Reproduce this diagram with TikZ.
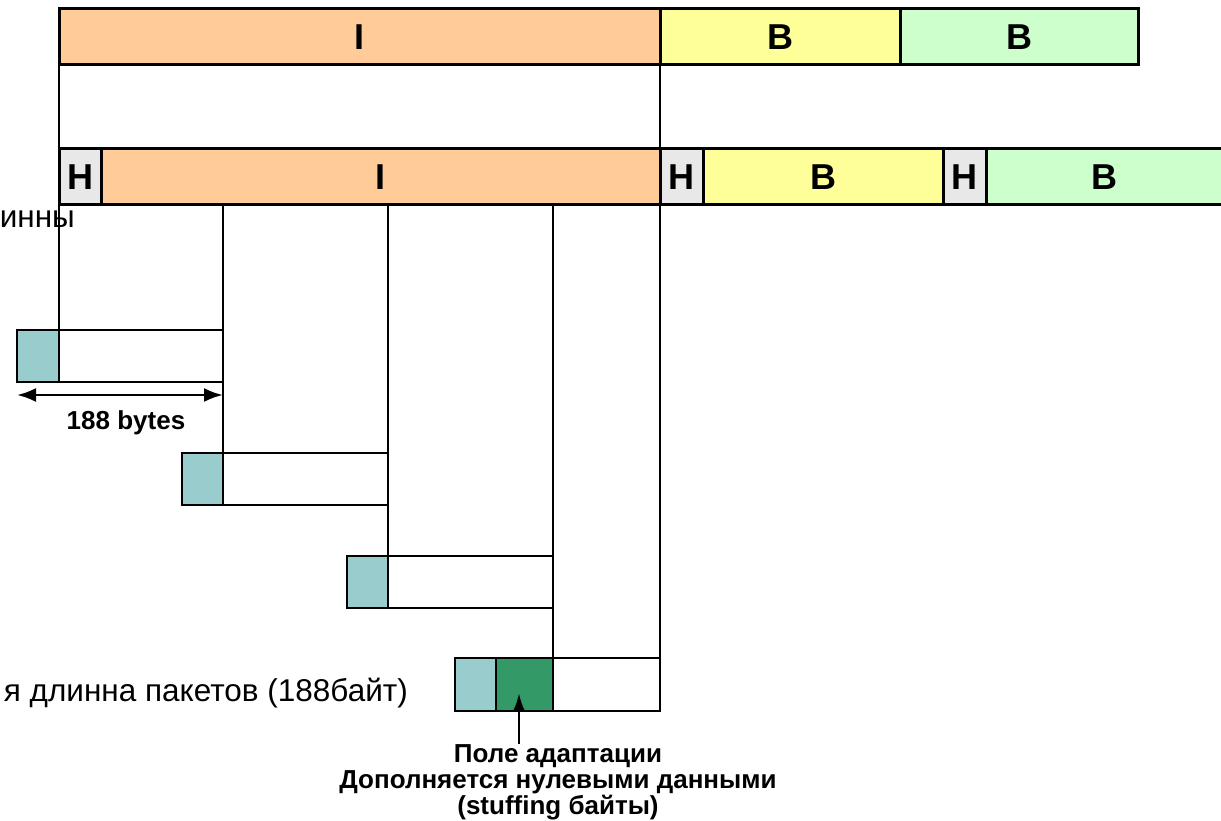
\documentclass[tikz,border=0pt]{standalone}
\usepackage{fontspec}
\setmainfont{Liberation Sans}
\usetikzlibrary{arrows.meta,calc}
\definecolor{cI}{HTML}{FFCC99}
\definecolor{cBy}{HTML}{FFFF99}
\definecolor{cBg}{HTML}{CCFFCC}
\definecolor{cH}{HTML}{E8E8E8}
\definecolor{cTS}{HTML}{99CCCC}
\definecolor{cAF}{HTML}{339966}
\tikzset{
  box/.style={draw=black, line width=3pt, rectangle, inner sep=0pt, outer sep=0pt, anchor=center},
  pbox/.style={box, line width=2.6pt},
  lbl/.style={font=\fontsize{36}{40}\selectfont\bfseries},
  conn/.style={draw=black, line width=2.6pt},
}
\begin{document}
\begin{tikzpicture}[x=1pt,y=-1pt]
\useasboundingbox (0,0) rectangle (1221,821);
\clip (0,0) rectangle (1221,821);
% top row
\node[box, fill=cI, minimum width=601, minimum height=56, lbl] (It) at (359.5,37) {I};
\node[box, fill=cBy, minimum width=240, minimum height=56, lbl] (B1) at (780,37) {B};
\node[box, fill=cBg, minimum width=238, minimum height=56, lbl] (B2) at (1019,37) {B};
% second row
\node[box, fill=cH, minimum width=42, minimum height=56, lbl] (H1) at (80,177) {H};
\node[box, fill=cI, minimum width=559, minimum height=56, lbl] (I2) at (380.5,177) {I};
\node[box, fill=cH, minimum width=43, minimum height=56, lbl] (H2) at (681.5,177) {H};
\node[box, fill=cBy, minimum width=240, minimum height=56, lbl] (B3) at (823,177) {B};
\node[box, fill=cH, minimum width=43, minimum height=56, lbl] (H3) at (964.5,177) {H};
\node[box, fill=cBg, minimum width=245, minimum height=56] (B4) at (1108.5,177) {};
\node[lbl] (B4t) at (1104,177) {B};
% packets
\node[pbox, fill=cTS, minimum width=42, minimum height=52] (P1h) at (38,356) {};
\node[pbox, fill=white, minimum width=164, minimum height=52] (P1b) at (141,356) {};
\node[pbox, fill=cTS, minimum width=41, minimum height=52] (P2h) at (202.5,479) {};
\node[pbox, fill=white, minimum width=165, minimum height=52] (P2b) at (305.5,479) {};
\node[pbox, fill=cTS, minimum width=41, minimum height=52] (P3h) at (367.5,582) {};
\node[pbox, fill=white, minimum width=165, minimum height=52] (P3b) at (470.5,582) {};
\node[pbox, fill=cTS, minimum width=41, minimum height=53] (P4h) at (475.5,684.5) {};
\node[pbox, fill=cAF, minimum width=57, minimum height=53] (P4a) at (524.5,684.5) {};
\node[pbox, fill=white, minimum width=107, minimum height=53] (P4b) at (606.5,684.5) {};
% connectors
\draw[conn] (It.south west) -- (H1.north west);
\draw[conn] (It.south east) -- (H2.north west);
\draw[conn] (H1.south west) -- (P1b.north west);
\draw[conn] (H2.south west) -- (P4b.north east);
\draw[conn] (P1b.north east |- I2.south) -- (P1b.north east);
\draw[conn] (P1b.south east) -- (P2b.north west);
\draw[conn] (P2b.north east |- I2.south) -- (P2b.north east);
\draw[conn] (P2b.south east) -- (P3b.north west);
\draw[conn] (P3b.north east |- I2.south) -- (P3b.north east);
\draw[conn] (P3b.south east) -- (P4b.north west);
% dimension
\draw[line width=2.6pt, {Latex[length=19pt,width=14pt]}-{Latex[length=19pt,width=14pt]}]
  ($(P1h.south west)+(0,13)$) -- ($(P1b.south east)+(0,13)$);
\node[font=\fontsize{26}{30}\selectfont\bfseries] (dim) at (126,423) {188 bytes};
% left texts
\node[anchor=east, inner sep=0pt, font=\fontsize{31.5}{36}\selectfont] (t1) at (75,219) {инны};
\node[anchor=east, inner sep=0pt, font=\fontsize{31.5}{36}\selectfont] (t2) at (408,693) {я длинна пакетов (188байт)};
% adaptation label
\node[align=center, inner sep=0pt, font=\fontsize{26}{26}\selectfont\bfseries] (ada) at (558,782)
  {Поле адаптации\\Дополняется нулевыми данными\\(stuffing байты)};
\coordinate (tipA) at (519,693);
\draw[line width=2.6pt, -{Latex[length=18pt,width=12pt]}] (tipA |- ada.north) -- (tipA);
\end{tikzpicture}
\end{document}
